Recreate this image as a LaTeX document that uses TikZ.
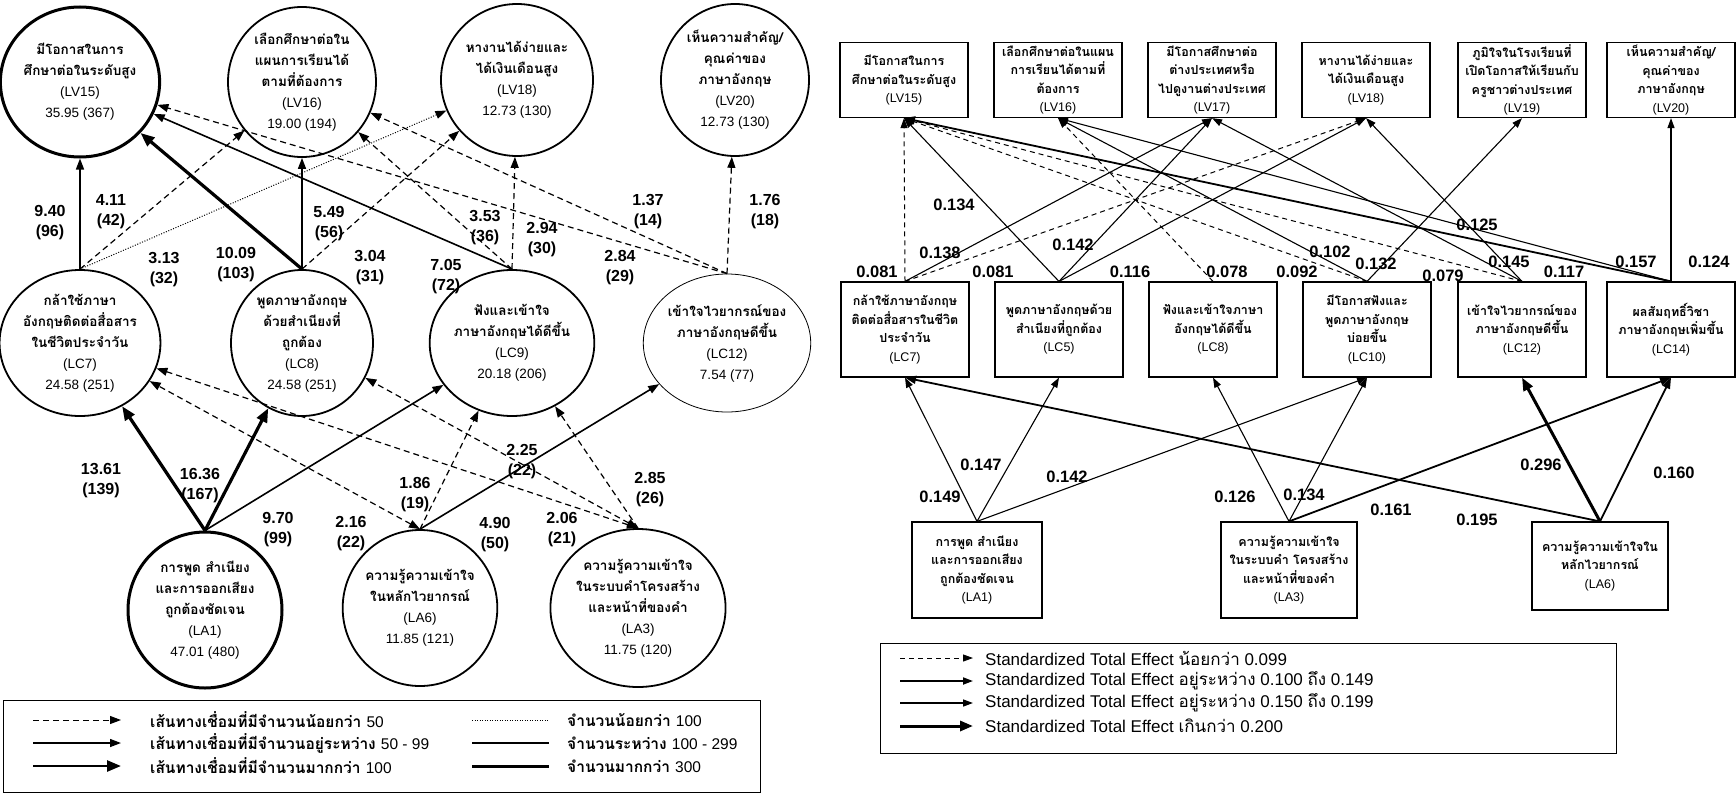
\documentclass[tikz,border=0pt]{standalone}
\usepackage{fontspec}
\setmainfont{Liberation Sans}
\newfontfamily\thai[Script=Thai]{Loma}
\usetikzlibrary{arrows.meta,shapes.geometric}
\newcommand\thaiN{\thai\bfseries\fontsize{13.5}{21}\selectfont}
\newcommand\thaiR{\thai\bfseries\fontsize{12.5}{18.5}\selectfont}
\newcommand\nm{\rmfamily\mdseries\fontsize{13.5}{21}\selectfont}
\newcommand\nr{\rmfamily\mdseries\fontsize{12.5}{18.5}\selectfont}
\begin{document}
\begin{tikzpicture}[x=1pt,y=-1pt,
  circ/.style={draw, ellipse, line width=1.8pt, inner sep=0pt, align=center, font=\thaiN},
  rbox/.style={draw, rectangle, line width=1.2pt, minimum width=128pt, minimum height=75pt, inner sep=0pt, align=center, font=\thaiR},
  lab/.style={inner sep=0pt, align=center, font=\rmfamily\bfseries\fontsize{16}{20}\selectfont},
  rlab/.style={inner sep=0pt, font=\rmfamily\bfseries\fontsize{16.5}{18}\selectfont},
  ldash/.style={line width=1.2pt, dash pattern=on 6pt off 4pt, -{Triangle[length=11pt,width=8pt]}},
  lthin/.style={line width=1.6pt, -{Triangle[length=11pt,width=8pt]}},
  lthick/.style={line width=3.2pt, -{Triangle[length=14pt,width=11pt]}},
  ldot/.style={line width=1pt, dash pattern=on 1pt off 1.6pt, -{Triangle[length=11pt,width=8pt]}},
  lboth/.style={line width=1.2pt, dash pattern=on 6pt off 4pt, {Triangle[length=11pt,width=8pt]}-{Triangle[length=11pt,width=8pt]}},
  rdash/.style={line width=1pt, dash pattern=on 5pt off 4pt, -{Triangle[length=10pt,width=7pt]}},
  rthin/.style={line width=1.1pt, -{Triangle[length=10pt,width=7pt]}},
  rmed/.style={line width=1.8pt, -{Triangle[length=11pt,width=8pt]}},
  rthick/.style={line width=3pt, -{Triangle[length=13pt,width=10pt]}},
  legtxt/.style={anchor=west, inner sep=0pt, font=\thai\bfseries\fontsize{15.5}{18}\selectfont},
  legtxtr/.style={anchor=west, inner sep=0pt, font=\rmfamily\fontsize{17}{19}\selectfont}
]
\useasboundingbox (0,0) rectangle (1736,792);
\fill[white] (0,0) rectangle (1736,792);

% ---------------- left graph nodes
\node[circ, line width=3pt, minimum width=150pt, minimum height=150pt] (LV15) at (80,82)
  {มีโอกาสในการ\\ศึกษาต่อในระดับสูง\\{\nm (LV15)}\\{\nm 35.95 (367)}};
\node[circ, minimum width=148pt, minimum height=150pt] (LV16) at (302,82)
  {เลือกศึกษาต่อใน\\แผนการเรียนได้\\ตามที่ต้องการ\\{\nm (LV16)}\\{\nm 19.00 (194)}};
\node[circ, minimum width=152pt, minimum height=152pt] (LV18) at (517,80)
  {หางานได้ง่ายและ\\ได้เงินเดือนสูง\\{\nm (LV18)}\\{\nm 12.73 (130)}};
\node[circ, minimum width=148pt, minimum height=152pt] (LV20) at (735,80)
  {เห็นความสำคัญ/\\คุณค่าของ\\ภาษาอังกฤษ\\{\nm (LV20)}\\{\nm 12.73 (130)}};

\node[circ, minimum width=142pt, minimum height=146pt] (LC7) at (80,343)
  {กล้าใช้ภาษา\\อังกฤษติดต่อสื่อสาร\\ในชีวิตประจำวัน\\{\nm (LC7)}\\{\nm 24.58 (251)}};
\node[circ, minimum width=142pt, minimum height=146pt] (LC8) at (302,343)
  {พูดภาษาอังกฤษ\\ด้วยสำเนียงที่\\ถูกต้อง\\{\nm (LC8)}\\{\nm 24.58 (251)}};
\node[circ, minimum width=146pt, minimum height=146pt] (LC9) at (512,343)
  {ฟังและเข้าใจ\\ภาษาอังกฤษได้ดีขึ้น\\{\nm (LC9)}\\{\nm 20.18 (206)}};
\node[circ, line width=0.8pt, minimum width=124pt, minimum height=138pt] (LC12) at (727,343)
  {เข้าใจไวยากรณ์ของ\\ภาษาอังกฤษดีขึ้น\\{\nm (LC12)}\\{\nm 7.54 (77)}};

\node[circ, line width=3pt, minimum width=154pt, minimum height=156pt] (LA1) at (205,610)
  {การพูด สำเนียง\\และการออกเสียง\\ถูกต้องชัดเจน\\{\nm (LA1)}\\{\nm 47.01 (480)}};
\node[circ, minimum width=134pt, minimum height=156pt] (LA6) at (420,608)
  {ความรู้ความเข้าใจ\\ในหลักไวยากรณ์\\{\nm (LA6)}\\{\nm 11.85 (121)}};
\node[circ, minimum width=134pt, minimum height=158pt] (LA3) at (638,608)
  {ความรู้ความเข้าใจ\\ในระบบคำโครงสร้าง\\และหน้าที่ของคำ\\{\nm (LA3)}\\{\nm 11.75 (120)}};

% ---------------- left graph edges
\draw[lthin] (LC7.north) -- (LV15);
\draw[ldash] (LC7.north) -- (LV16);
\draw[ldot] (LC7.north) -- (LV18);
\draw[lthick] (LC8.north) -- (LV15);
\draw[lthin] (LC8.north) -- (LV16);
\draw[ldash] (LC8.north) -- (LV18);
\draw[lthin] (LC9.north) -- (LV15);
\draw[ldash] (LC9.north) -- (LV16);
\draw[ldash] (LC9.north) -- (LV18);
\draw[ldash] (LC12.north) -- (LV15);
\draw[ldash] (LC12.north) -- (LV16);
\draw[ldash] (LC12.north) -- (LV20);
\draw[lthick] (LA1.north) -- (LC7);
\draw[lthick] (LA1.north) -- (LC8);
\draw[lthin] (LA1.north) -- (LC9);
\draw[lboth] (LA6.north) -- (LC7);
\draw[ldash] (LA6.north) -- (LC9);
\draw[lthin] (LA6.north) -- (LC12);
\draw[lboth] (LA3.north) -- (LC7);
\draw[lboth] (LA3.north) -- (LC8);
\draw[ldash] (LA3.north) -- (LC9);

% ---------------- left graph labels
\node[lab] (n1) at (50,223) {9.40\\(96)};
\node[lab] (n2) at (111,212) {4.11\\(42)};
\node[lab] (n3) at (164,270) {3.13\\(32)};
\node[lab] (n4) at (236,265) {10.09\\(103)};
\node[lab] (n5) at (329,224) {5.49\\(56)};
\node[lab] (n6) at (370,268) {3.04\\(31)};
\node[lab] (n7) at (446,277) {7.05\\(72)};
\node[lab] (n8) at (485,228) {3.53\\(36)};
\node[lab] (n9) at (542,240) {2.94\\(30)};
\node[lab] (n10) at (648,212) {1.37\\(14)};
\node[lab] (n11) at (765,212) {1.76\\(18)};
\node[lab] (n12) at (620,268) {2.84\\(29)};
\node[lab] (n13) at (101,481) {13.61\\(139)};
\node[lab] (n14) at (200,486) {16.36\\(167)};
\node[lab] (n15) at (278,530) {9.70\\(99)};
\node[lab] (n16) at (351,534) {2.16\\(22)};
\node[lab] (n17) at (415,495) {1.86\\(19)};
\node[lab] (n18) at (522,462) {2.25\\(22)};
\node[lab] (n19) at (495,535) {4.90\\(50)};
\node[lab] (n20) at (562,530) {2.06\\(21)};
\node[lab] (n21) at (650,490) {2.85\\(26)};

% ---------------- left legend
\node[draw, line width=1pt, minimum width=757pt, minimum height=92pt, inner sep=0pt] (legL) at (381.5,746) {};
\coordinate (a1s) at (33,720); \coordinate (a1e) at (121,720);
\coordinate (a2s) at (33,743); \coordinate (a2e) at (121,743);
\coordinate (a3s) at (33,766); \coordinate (a3e) at (121,766);
\draw[ldash, line width=1pt] (a1s) -- (a1e);
\draw[lthin, line width=1.3pt] (a2s) -- (a2e);
\draw[lthick, line width=2.6pt] (a3s) -- (a3e);
\node[legtxt] (t1) at (150,720) {เส้นทางเชื่อมที่มีจำนวนน้อยกว่า {\rmfamily\mdseries 50}};
\node[legtxt] (t2) at (150,743) {เส้นทางเชื่อมที่มีจำนวนอยู่ระหว่าง {\rmfamily\mdseries 50 - 99}};
\node[legtxt] (t3) at (150,766) {เส้นทางเชื่อมที่มีจำนวนมากกว่า {\rmfamily\mdseries 100}};
\coordinate (b1s) at (472,720); \coordinate (b1e) at (549,720);
\coordinate (b2s) at (472,743); \coordinate (b2e) at (549,743);
\coordinate (b3s) at (472,766); \coordinate (b3e) at (549,766);
\draw[line width=1pt, dash pattern=on 1pt off 1.5pt] (b1s) -- (b1e);
\draw[line width=1.3pt] (b2s) -- (b2e);
\draw[line width=3pt] (b3s) -- (b3e);
\node[legtxt] (t4) at (567,720) {จำนวนน้อยกว่า {\rmfamily\mdseries 100}};
\node[legtxt] (t5) at (567,743) {จำนวนระหว่าง {\rmfamily\mdseries 100 - 299}};
\node[legtxt] (t6) at (567,766) {จำนวนมากกว่า {\rmfamily\mdseries 300}};

% ---------------- right graph nodes
\node[rbox] (rLV15) at (904,80) {มีโอกาสในการ\\ศึกษาต่อในระดับสูง\\{\nr (LV15)}};
\node[rbox] (rLV16) at (1058,80) {เลือกศึกษาต่อในแผน\\การเรียนได้ตามที่\\ต้องการ\\{\nr (LV16)}};
\node[rbox] (rLV17) at (1212,80) {มีโอกาสศึกษาต่อ\\ต่างประเทศหรือ\\ไปดูงานต่างประเทศ\\{\nr (LV17)}};
\node[rbox] (rLV18) at (1366,80) {หางานได้ง่ายและ\\ได้เงินเดือนสูง\\{\nr (LV18)}};
\node[rbox] (rLV19) at (1522,80) {ภูมิใจในโรงเรียนที่\\เปิดโอกาสให้เรียนกับ\\ครูชาวต่างประเทศ\\{\nr (LV19)}};
\node[rbox] (rLV20) at (1671,80) {เห็นความสำคัญ/\\คุณค่าของ\\ภาษาอังกฤษ\\{\nr (LV20)}};

\node[rbox, minimum height=95pt] (rLC7) at (905,329.5) {กล้าใช้ภาษาอังกฤษ\\ติดต่อสื่อสารในชีวิต\\ประจำวัน\\{\nr (LC7)}};
\node[rbox, minimum height=95pt] (rLC8) at (1059,329.5) {พูดภาษาอังกฤษด้วย\\สำเนียงที่ถูกต้อง\\{\nr (LC5)}};
\node[rbox, minimum height=95pt] (rLC9) at (1213,329.5) {ฟังและเข้าใจภาษา\\อังกฤษได้ดีขึ้น\\{\nr (LC8)}};
\node[rbox, minimum height=95pt] (rLC10) at (1367,329.5) {มีโอกาสฟังและ\\พูดภาษาอังกฤษ\\บ่อยขึ้น\\{\nr (LC10)}};
\node[rbox, minimum height=95pt] (rLC12) at (1522,329.5) {เข้าใจไวยากรณ์ของ\\ภาษาอังกฤษดีขึ้น\\{\nr (LC12)}};
\node[rbox, minimum height=95pt] (rLC14) at (1671,329.5) {ผลสัมฤทธิ์วิชา\\ภาษาอังกฤษเพิ่มขึ้น\\{\nr (LC14)}};

\node[rbox, minimum width=130pt, minimum height=96pt] (rLA1) at (977,570) {การพูด สำเนียง\\และการออกเสียง\\ถูกต้องชัดเจน\\{\nr (LA1)}};
\node[rbox, minimum width=136pt, minimum height=96pt] (rLA3) at (1289,570) {ความรู้ความเข้าใจ\\ในระบบคำ โครงสร้าง\\และหน้าที่ของคำ\\{\nr (LA3)}};
\node[rbox, minimum width=136pt, minimum height=88pt] (rLA6) at (1600,566) {ความรู้ความเข้าใจใน\\หลักไวยากรณ์\\{\nr (LA6)}};

% ---------------- right graph edges
\draw[rdash] (rLC7.north) -- (rLV15.south);
\draw[rthin] (rLC7.north) -- (rLV17.south);
\draw[rdash] (rLC7.north) -- (rLV18.south);
\draw[rthin] (rLC8.north) -- (rLV15.south);
\draw[rthin] (rLC8.north) -- (rLV17.south);
\draw[rthin] (rLC8.north) -- (rLV18.south);
\draw[rdash] (rLC9.north) -- (rLV16.south);
\draw[rdash] (rLC10.north) -- (rLV15.south);
\draw[rthin] (rLC10.north) -- (rLV16.south);
\draw[rthin] (rLC10.north) -- (rLV19.south);
\draw[rdash] (rLC12.north) -- (rLV15.south);
\draw[rthin] (rLC12.north) -- (rLV17.south);
\draw[rthin] (rLC12.north) -- (rLV18.south);
\draw[rmed] (rLC14.north) -- (rLV15.south);
\draw[rthin] (rLC14.north) -- (rLV16.south);
\draw[rthin] (rLC14.north) -- (rLV20.south);

\draw[rthin] (rLA1.north) -- (rLC7.south);
\draw[rthin] (rLA1.north) -- (rLC8.south);
\draw[rthin] (rLA1.north) -- (rLC10.south);
\draw[rthin] (rLA3.north) -- (rLC9.south);
\draw[rthin] (rLA3.north) -- (rLC10.south);
\draw[rmed] (rLA3.north) -- (rLC14.south);
\draw[rmed] (rLA6.north) -- (rLC7.south);
\draw[rthick] (rLA6.north) -- (rLC12.south);
\draw[rmed] (rLA6.north) -- (rLC14.south);

% ---------------- right graph labels
\node[rlab] (r1) at (954,205) {0.134};
\node[rlab] (r2) at (940,253) {0.138};
\node[rlab] (r3) at (1073,245) {0.142};
\node[rlab] (r4) at (1477,225) {0.125};
\node[rlab] (r5) at (877,272) {0.081};
\node[rlab] (r6) at (993,272) {0.081};
\node[rlab] (r7) at (1130,272) {0.116};
\node[rlab] (r8) at (1227,272) {0.078};
\node[rlab] (r9) at (1297,272) {0.092};
\node[rlab] (r10) at (1330,252) {0.102};
\node[rlab] (r11) at (1376,264) {0.132};
\node[rlab] (r12) at (1443,276) {0.079};
\node[rlab] (r13) at (1509,262) {0.145};
\node[rlab] (r14) at (1564,272) {0.117};
\node[rlab] (r15) at (1636,262) {0.157};
\node[rlab] (r16) at (1709,262) {0.124};
\node[rlab] (r17) at (981,465) {0.147};
\node[rlab] (r18) at (1067,477) {0.142};
\node[rlab] (r19) at (940,497) {0.149};
\node[rlab] (r20) at (1235,497) {0.126};
\node[rlab] (r21) at (1304,495) {0.134};
\node[rlab] (r22) at (1391,510) {0.161};
\node[rlab] (r23) at (1477,520) {0.195};
\node[rlab] (r24) at (1541,465) {0.296};
\node[rlab] (r25) at (1674,473) {0.160};

% ---------------- right legend
\node[draw, line width=1pt, minimum width=736pt, minimum height=110pt, inner sep=0pt] (legR) at (1248,698) {};
\coordinate (c1s) at (900,658); \coordinate (c1e) at (973,658);
\coordinate (c2s) at (900,681); \coordinate (c2e) at (973,681);
\coordinate (c3s) at (900,703); \coordinate (c3e) at (973,703);
\coordinate (c4s) at (900,726); \coordinate (c4e) at (973,726);
\draw[rdash] (c1s) -- (c1e);
\draw[rthin, line width=1.8pt] (c2s) -- (c2e);
\draw[rthin, line width=1.4pt] (c3s) -- (c3e);
\draw[rthick] (c4s) -- (c4e);
\node[legtxtr] (u1) at (985,658) {Standardized Total Effect {\thai น้อยกว่า} 0.099};
\node[legtxtr] (u2) at (985,681) {Standardized Total Effect {\thai อยู่ระหว่าง} 0.100 {\thai ถึง} 0.149};
\node[legtxtr] (u3) at (985,703) {Standardized Total Effect {\thai อยู่ระหว่าง} 0.150 {\thai ถึง} 0.199};
\node[legtxtr] (u4) at (985,726) {Standardized Total Effect {\thai เกินกว่า} 0.200};
\end{tikzpicture}
\end{document}
